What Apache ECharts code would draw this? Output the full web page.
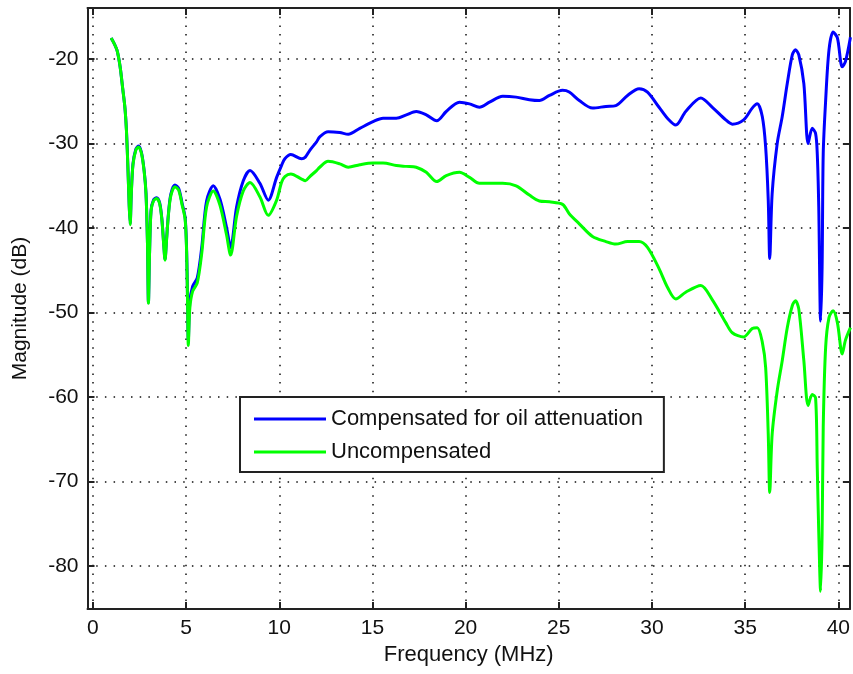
<!DOCTYPE html>
<html>
<head>
<meta charset="utf-8">
<script src="https://cdn.jsdelivr.net/npm/echarts@6/dist/echarts.min.js"></script>
<style>
  html, body { margin: 0; padding: 0; background: #fff; }
  #chart { width: 853px; height: 674px; }
</style>
</head>
<body>
<div id="chart"></div>
<script>
// Frequency grid (MHz) shared by both traces
const freqMHz = [
  0.98, 1.15, 1.3, 1.46, 1.6, 1.72, 1.8, 1.88, 1.95, 2.0,
  2.06, 2.15, 2.3, 2.44, 2.6, 2.75, 2.85, 2.93, 2.98, 3.04,
  3.12, 3.25, 3.42, 3.58, 3.7, 3.8, 3.87, 3.95, 4.05, 4.18,
  4.4, 4.6, 4.78, 4.95, 5.03, 5.08, 5.12, 5.2, 5.35, 5.6,
  5.84, 6.1, 6.46, 6.82, 7.17, 7.39, 7.71, 8.07, 8.43, 8.96,
  9.41, 9.86, 10.12, 10.3, 10.62, 11.2, 11.4, 11.64, 12.0, 12.17,
  12.62, 13.25, 13.7, 14.32, 15.03, 15.57, 16.28, 16.82, 17.35, 17.89,
  18.45, 18.96, 19.67, 20.21, 20.74, 21.28, 21.99, 22.71, 23.42, 23.96,
  24.5, 25.2, 25.56, 26.1, 26.81, 27.53, 28.06, 28.69, 29.31, 29.76,
  30.38, 30.83, 31.28, 31.81, 32.62, 33.24, 33.96, 34.31, 34.92, 35.38,
  35.65, 35.92, 36.1, 36.24, 36.32, 36.45, 36.72, 36.99, 37.26, 37.53,
  37.7, 37.88, 38.15, 38.38, 38.6, 38.78, 38.87, 38.95, 39.05, 39.13,
  39.19, 39.32, 39.5, 39.72, 39.95, 40.21, 40.38, 40.65
];

// Magnitude (dB) with oil attenuation compensated
const compensatedDb = [
  -17.5, -18.2, -19.0, -20.9, -23.5, -25.8, -28.4, -32.9, -37.4, -39.5,
  -35.9, -32.4, -30.7, -30.3, -31.0, -33.2, -35.9, -41.9, -48.8, -42.9,
  -37.9, -36.7, -36.4, -37.0, -38.9, -41.9, -43.7, -41.4, -38.4, -36.0,
  -34.9, -35.3, -37.0, -38.8, -42.7, -48.6, -53.3, -48.8, -46.9, -45.9,
  -42.3, -36.8, -35.0, -36.6, -39.9, -42.3, -37.5, -34.4, -33.2, -34.7,
  -36.7, -34.0, -32.6, -31.8, -31.3, -31.8, -31.6, -30.8, -29.8, -29.2,
  -28.6, -28.7, -28.9, -28.2, -27.4, -27.0, -27.0, -26.6, -26.2, -26.6,
  -27.3, -26.2, -25.1, -25.3, -25.7, -25.1, -24.4, -24.5, -24.8, -24.9,
  -24.3, -23.7, -23.9, -24.9, -25.8, -25.6, -25.5, -24.3, -23.5, -23.9,
  -25.7, -27.0, -27.8, -26.2, -24.6, -25.7, -27.2, -27.7, -27.2, -25.8,
  -25.3, -26.8, -30.4, -36.7, -43.6, -35.9, -30.0, -26.8, -22.9, -19.5,
  -18.9, -19.5, -22.9, -30.0, -28.2, -28.8, -31.2, -37.5, -51.0, -44.6,
  -31.2, -24.9, -18.9, -16.8, -17.5, -20.9, -20.3, -17.4
];

// Magnitude (dB) without compensation
const uncompensatedDb = [
  -17.5, -18.2, -19.0, -20.9, -23.5, -25.8, -28.5, -33.0, -37.5, -39.6,
  -36.0, -32.5, -30.8, -30.4, -31.1, -33.3, -36.0, -42.0, -48.9, -43.0,
  -38.0, -36.8, -36.5, -37.1, -39.0, -42.0, -43.8, -41.5, -38.5, -36.2,
  -35.1, -35.5, -37.2, -39.0, -43.0, -49.0, -53.9, -49.5, -47.5, -46.5,
  -43.0, -37.5, -35.6, -37.3, -40.8, -43.2, -38.6, -35.6, -34.6, -36.3,
  -38.5, -36.7, -34.6, -33.9, -33.6, -34.2, -34.4, -33.9, -33.2, -32.8,
  -32.1, -32.4, -32.8, -32.5, -32.3, -32.3, -32.6, -32.7, -32.8, -33.4,
  -34.5, -33.8, -33.4, -34.0, -34.7, -34.7, -34.7, -35.0, -36.1, -36.8,
  -36.9, -37.2, -38.3, -39.5, -41.0, -41.6, -41.9, -41.6, -41.6, -42.3,
  -44.8, -47.0, -48.4, -47.6, -46.8, -48.5, -51.2, -52.4, -52.9, -51.9,
  -51.8, -53.5, -56.5, -64.4, -71.3, -64.4, -59.3, -55.7, -51.8, -49.2,
  -48.6, -49.6, -55.7, -61.0, -59.7, -60.1, -68.4, -76.0, -83.0, -76.3,
  -63.6, -54.1, -50.6, -49.8, -51.2, -54.9, -53.3, -51.8
];

const seriesNames = ['Compensated for oil attenuation', 'Uncompensated'];
const seriesColors = ['#0000ff', '#00ff00'];

const xRange = [-0.29, 40.62];
const yRange = [-85.1, -13.95];

const pairs = (ys) => freqMHz.map((f, i) => [f, ys[i]]);

const frameColor = '#222';
const fontFamily = '"Liberation Sans", Arial, sans-serif';
const dotted = { color: '#111', width: 1.5, type: [1.5, 7.2] };

const chart = echarts.init(document.getElementById('chart'), null, { renderer: 'canvas' });

const baseX = {
  type: 'value', min: xRange[0], max: xRange[1], splitNumber: 8
};
const baseY = {
  type: 'value', min: yRange[0], max: yRange[1], splitNumber: 7
};

chart.setOption({
  animation: false,
  backgroundColor: '#fff',
  grid: { left: 87.5, top: 8, width: 765, height: 601, containLabel: false },
  legend: {
    orient: 'vertical',
    left: 240,
    top: 397,
    data: seriesNames,
    icon: 'rect',
    itemWidth: 72,
    itemHeight: 3,
    itemGap: 11,
    padding: [11, 21, 9, 14],
    backgroundColor: '#fff',
    borderColor: frameColor,
    borderWidth: 2,
    borderRadius: 0,
    textStyle: { fontFamily, fontSize: 22, color: '#111', lineHeight: 22 }
  },
  xAxis: [
    Object.assign({}, baseX, {
      position: 'bottom',
      name: 'Frequency (MHz)',
      nameLocation: 'middle',
      nameGap: 30,
      nameTextStyle: { fontFamily, fontSize: 22, color: '#111' },
      axisLine: { show: true, onZero: false, lineStyle: { color: frameColor, width: 2 } },
      axisTick: { show: true, inside: true, length: 7, lineStyle: { color: frameColor, width: 2 } },
      axisLabel: { fontFamily, fontSize: 21, color: '#111', margin: 9,
                   showMinLabel: false, showMaxLabel: false },
      splitLine: { show: true, lineStyle: dotted }
    }),
    Object.assign({}, baseX, {
      position: 'top',
      axisLine: { show: true, onZero: false, lineStyle: { color: frameColor, width: 2 } },
      axisTick: { show: true, inside: true, length: 7, lineStyle: { color: frameColor, width: 2 } },
      axisLabel: { show: false },
      splitLine: { show: false }
    })
  ],
  yAxis: [
    Object.assign({}, baseY, {
      position: 'left',
      name: 'Magnitude (dB)',
      nameLocation: 'middle',
      nameGap: 57,
      nameTextStyle: { fontFamily, fontSize: 21, color: '#111' },
      axisLine: { show: true, onZero: false, lineStyle: { color: frameColor, width: 2 } },
      axisTick: { show: true, inside: true, length: 7, lineStyle: { color: frameColor, width: 2 } },
      axisLabel: { fontFamily, fontSize: 21, color: '#111', margin: 9,
                   showMinLabel: false, showMaxLabel: false },
      splitLine: { show: true, lineStyle: dotted }
    }),
    Object.assign({}, baseY, {
      position: 'right',
      axisLine: { show: true, onZero: false, lineStyle: { color: frameColor, width: 2 } },
      axisTick: { show: true, inside: true, length: 7, lineStyle: { color: frameColor, width: 2 } },
      axisLabel: { show: false },
      splitLine: { show: false }
    })
  ],
  series: [
    {
      name: seriesNames[0],
      type: 'line',
      xAxisIndex: 0, yAxisIndex: 0,
      data: pairs(compensatedDb),
      showSymbol: false,
      smooth: 0.3,
      lineStyle: { color: seriesColors[0], width: 3 },
      itemStyle: { color: seriesColors[0] }
    },
    {
      name: seriesNames[1],
      type: 'line',
      xAxisIndex: 0, yAxisIndex: 0,
      data: pairs(uncompensatedDb),
      showSymbol: false,
      smooth: 0.3,
      lineStyle: { color: seriesColors[1], width: 3 },
      itemStyle: { color: seriesColors[1] }
    }
  ]
});
</script>
</body>
</html>
